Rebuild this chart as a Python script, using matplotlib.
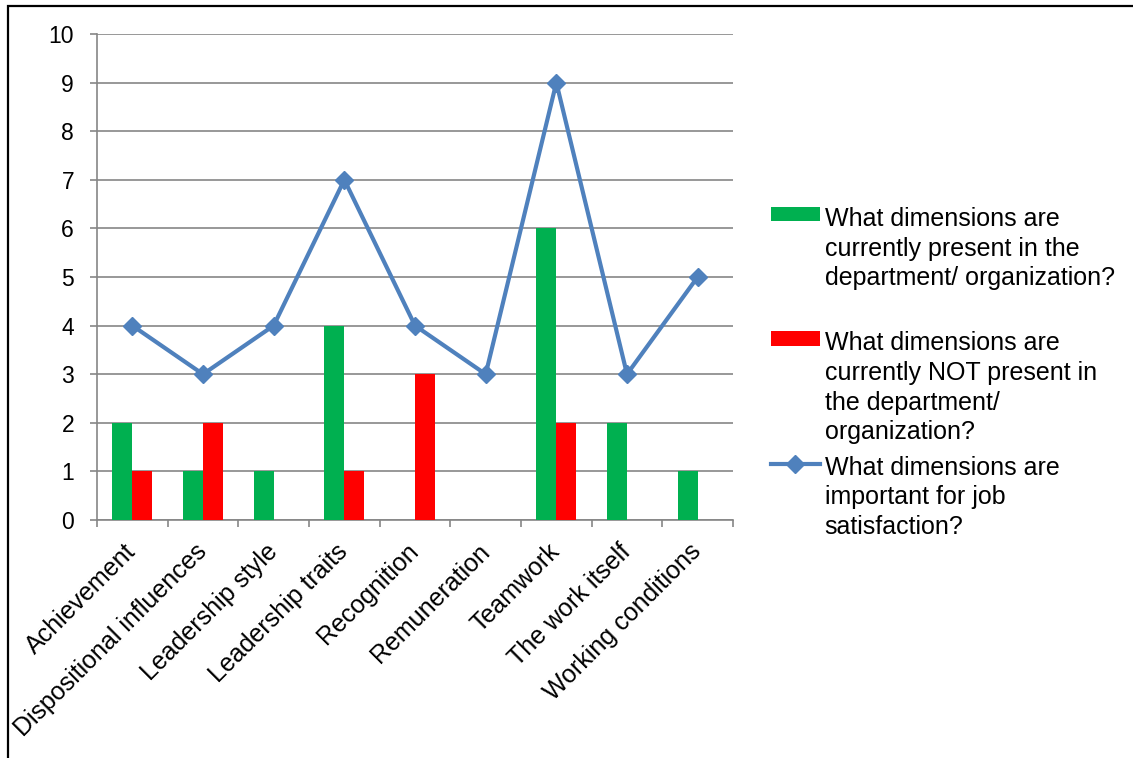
import numpy as np
import matplotlib
matplotlib.use('Agg')
import matplotlib.pyplot as plt
from matplotlib.patches import Rectangle

plt.rcParams['font.family'] = ['Liberation Sans', 'DejaVu Sans']

CATEGORIES = ['Achievement', 'Dispositional influences', 'Leadership style',
              'Leadership traits', 'Recognition', 'Remuneration', 'Teamwork',
              'The work itself', 'Working conditions']
PRESENT = [2, 1, 1, 4, 0, 0, 6, 2, 1]
NOT_PRESENT = [1, 2, 0, 1, 3, 0, 2, 0, 0]
IMPORTANT = [4, 3, 4, 7, 4, 3, 9, 3, 5]
Y_TICKS = list(range(0, 11))

LABELS = [
    'What dimensions are\ncurrently present in the\ndepartment/ organization?\n ',
    'What dimensions are\ncurrently NOT present in\nthe department/\norganization?',
    'What dimensions are\nimportant for job\nsatisfaction?\n ',
]

GREEN = '#00B050'
RED = '#FF0000'
BLUE = '#4F81BD'
GRID = '#868686'

W, H = 1133, 758
fig = plt.figure(figsize=(W / 100, H / 100), dpi=100)
ax = fig.add_axes([97 / W, 1 - 520 / H, (733 - 97) / W, (520 - 34) / H])

x = np.arange(len(CATEGORIES))
bw = 0.283
b1 = ax.bar(x - bw / 2, PRESENT, bw, color=GREEN, zorder=3,
            label=LABELS[0])
b2 = ax.bar(x + bw / 2, NOT_PRESENT, bw, color=RED, zorder=3,
            label=LABELS[1])
ln, = ax.plot(x, IMPORTANT, color=BLUE, lw=3, marker='D', ms=9,
              mfc=BLUE, mec=BLUE, zorder=5, label=LABELS[2])

ax.set_xlim(-0.5, len(CATEGORIES) - 0.5)
ax.set_ylim(0, 10)
ax.set_yticks(Y_TICKS)
ax.yaxis.grid(True, color=GRID, lw=1.2, zorder=0)
ax.set_axisbelow(True)
for s in ('top', 'right'):
    ax.spines[s].set_visible(False)
for s in ('left', 'bottom'):
    ax.spines[s].set_color(GRID)
    ax.spines[s].set_linewidth(1.2)

ax.tick_params(axis='y', length=5, width=1.2, color=GRID, pad=11.5,
               labelsize=16.5)
ax.set_xticks(x)
ax.set_xticklabels(CATEGORIES, rotation=45, ha='right', va='center',
                   rotation_mode='anchor', fontsize=18)
ax.set_xticks(np.arange(-0.5, len(CATEGORIES)), minor=True)
ax.tick_params(axis='x', which='major', length=0, pad=20)
ax.tick_params(axis='x', which='minor', length=5, width=1.2, color=GRID)

leg = fig.legend(handles=[b1, b2, ln], labels=LABELS, loc='upper left',
                 bbox_to_anchor=(771 / W, 1 - 207 / H), frameon=False,
                 fontsize=18, handlelength=1.95, handleheight=0.5,
                 handletextpad=0.2, labelspacing=0.45, borderpad=0,
                 borderaxespad=0)
for t in leg.get_texts():
    t.set_linespacing(1.3)
# put the swatch level with the first line of each entry
for col in leg._legend_handle_box.get_children():
    for row in col.get_children():
        row.align = 'top'

fig.patches.append(Rectangle((8 / W, -0.1), 1.2, 1.1 - 6 / H,
                             transform=fig.transFigure, fill=False,
                             ec='black', lw=1.6))

fig.savefig('out.png', dpi=100)
